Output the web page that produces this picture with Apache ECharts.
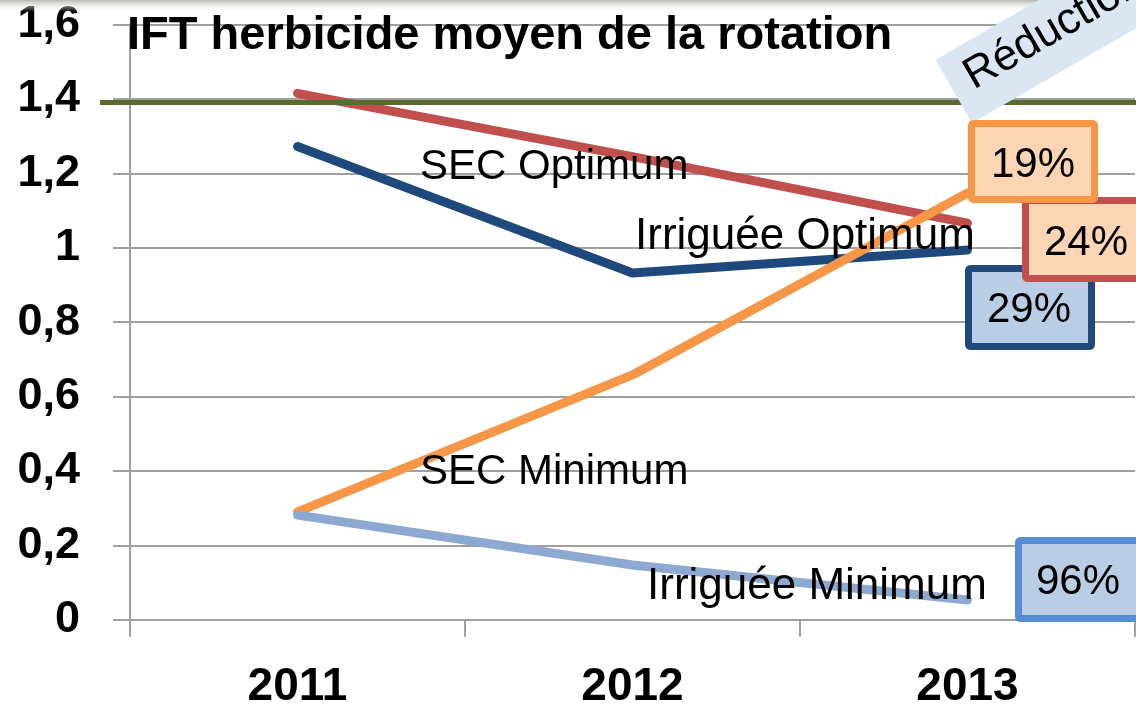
<!DOCTYPE html>
<html>
<head>
<meta charset="utf-8">
<script src="https://cdn.jsdelivr.net/npm/echarts@6/dist/echarts.min.js"></script>
<style>
  html, body { margin: 0; padding: 0; background: #fff; }
  #chart { width: 1136px; height: 711px; }
</style>
</head>
<body>
<div id="chart"></div>
<script>
// données
const years = ['2011', '2012', '2013']
const yTickLabels = ['0', '0,2', '0,4', '0,6', '0,8', '1', '1,2', '1,4', '1,6']
const secOptimum = [1.415, 1.245, 1.066]
const irrigueeOptimum = [1.272, 0.932, 0.994]
const secMinimum = [0.290, 0.658, 1.147]
const irrigueeMinimum = [0.281, 0.147, 0.053]
const seuil = 1.39
const reductions = ['19%', '24%', '29%', '96%']

const FONT = '"Liberation Sans", Arial, sans-serif'
const GRID_GRAY = '#a0a0a0'

const chart = echarts.init(document.getElementById('chart'))

// encadré de pourcentage
function box(x0, y0, x1, y1, stroke, fill, text, tx, ty) {
  return {
    type: 'group',
    z: 120,
    children: [
      {
        type: 'rect',
        z: 120,
        shape: { x: x0 + 3.5, y: y0 + 3.5, width: x1 - x0 - 7, height: y1 - y0 - 7, r: 2 },
        style: { fill: fill, stroke: stroke, lineWidth: 7 }
      },
      {
        type: 'text',
        z: 121,
        x: tx,
        y: ty,
        style: { text: text, font: '42px ' + FONT, fill: '#000', align: 'center', verticalAlign: 'middle' }
      }
    ]
  }
}

function serieLabel(text, x, y, size) {
  return {
    type: 'text',
    z: 110,
    x: x,
    y: y,
    style: { text: text, font: size + 'px ' + FONT, fill: '#000', align: 'left', verticalAlign: 'middle' }
  }
}

function lineSerie(name, data, color) {
  return {
    name: name,
    type: 'line',
    data: data,
    symbol: 'none',
    lineStyle: { color: color, width: 9, cap: 'round', join: 'round' },
    itemStyle: { color: color },
    animation: false
  }
}

const series = [
  lineSerie('SEC Optimum', secOptimum, '#C0504D'),
  lineSerie('Irriguée Optimum', irrigueeOptimum, '#1F497D'),
  lineSerie('SEC Minimum', secMinimum, '#F79646'),
  lineSerie('Irriguée Minimum', irrigueeMinimum, '#8EA9D1')
]
series[3].markLine = {
  silent: true,
  symbol: 'none',
  animation: false,
  label: { show: false },
  lineStyle: { color: '#5A6B2F', width: 5, type: 'solid' },
  data: [[{ x: 100, yAxis: seuil }, { x: 1136, yAxis: seuil }]]
}

chart.setOption({
  backgroundColor: '#fff',
  animation: false,
  title: {
    text: 'IFT herbicide moyen de la rotation',
    left: 127,
    top: 13,
    padding: 0,
    textStyle: { fontFamily: FONT, fontSize: 47, fontWeight: 'bold', color: '#000' }
  },
  grid: { left: 130, right: 1, top: 24.5, bottom: 91.3, containLabel: false },
  xAxis: {
    type: 'category',
    data: years,
    boundaryGap: true,
    axisLine: { lineStyle: { color: GRID_GRAY, width: 2 } },
    axisTick: { show: true, length: 17, lineStyle: { color: GRID_GRAY, width: 2 } },
    axisLabel: { margin: 45, fontFamily: FONT, fontSize: 46, fontWeight: 'bold', color: '#000' },
    splitLine: { show: false }
  },
  yAxis: {
    type: 'value',
    min: 0,
    max: 1.6,
    interval: 0.2,
    axisLine: { show: true, lineStyle: { color: GRID_GRAY, width: 2 } },
    axisTick: { show: true, length: 17, lineStyle: { color: GRID_GRAY, width: 2 } },
    axisLabel: {
      margin: 50,
      fontFamily: FONT,
      fontSize: 45,
      fontWeight: 'bold',
      color: '#000',
      formatter: v => yTickLabels[Math.round(v / 0.2)]
    },
    splitLine: { show: true, lineStyle: { color: GRID_GRAY, width: 2 } }
  },
  series: series,
  graphic: [
    {
      type: 'rect',
      z: 90,
      shape: { x: 0, y: 0, width: 1136, height: 12 },
      style: {
        fill: new echarts.graphic.LinearGradient(0, 0, 0, 1, [
          { offset: 0, color: '#b7bbb3' },
          { offset: 1, color: 'rgba(255,255,255,0)' }
        ])
      }
    },
    {
      type: 'group',
      z: 100,
      x: 972,
      y: 123,
      rotation: Math.PI / 6,
      children: [
        { type: 'rect', z: 100, shape: { x: 0, y: -73, width: 330, height: 73 }, style: { fill: '#DCE6F2' } },
        {
          type: 'text', z: 101, x: 18, y: -40,
          style: { text: 'Réduction', font: '44px ' + FONT, fill: '#000', align: 'left', verticalAlign: 'middle' }
        }
      ]
    },
    serieLabel('SEC Optimum', 420, 167, 42),
    serieLabel('Irriguée Optimum', 635, 237, 44),
    serieLabel('SEC Minimum', 420, 472, 42),
    serieLabel('Irriguée Minimum', 647, 587, 44),
    box(965, 265, 1095, 350, '#1F497D', '#B9CDE5', reductions[2], 1029, 310),
    box(1022, 197, 1160, 282, '#C0504D', '#FCD5B5', reductions[1], 1086, 243),
    box(968, 120, 1098, 203, '#F79646', '#FCD5B5', reductions[0], 1033, 165),
    box(1015, 537, 1160, 622, '#558ED5', '#B9CDE5', reductions[3], 1078, 582)
  ]
})
</script>
</body>
</html>
